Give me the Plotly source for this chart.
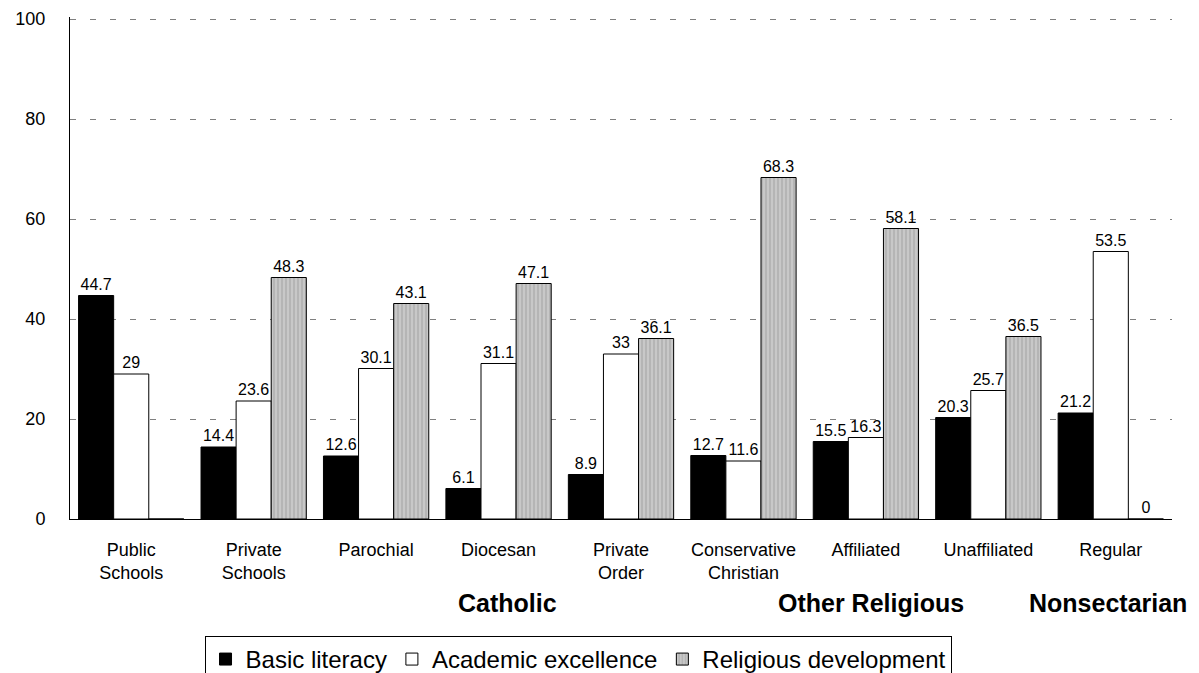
import plotly.graph_objects as go

categories = ["Public<br>Schools", "Private<br>Schools", "Parochial", "Diocesan", "Private<br>Order",
              "Conservative<br>Christian", "Affiliated", "Unaffiliated", "Regular"]
basic = [44.7, 14.4, 12.6, 6.1, 8.9, 12.7, 15.5, 20.3, 21.2]
academic = [29, 23.6, 30.1, 31.1, 33, 11.6, 16.3, 25.7, 53.5]
religious = [None, 48.3, 43.1, 47.1, 36.1, 68.3, 58.1, 36.5, 0]
groups = [("Catholic", 3.07), ("Other Religious", 6.04), ("Nonsectarian", 7.98)]

FONT = "Liberation Sans, Arial, sans-serif"

def fmt(v):
    return "" if v is None else f"{v:g}"

fig = go.Figure()
common = dict(textposition="outside", textfont=dict(size=16, color="black", family=FONT),
              cliponaxis=False)
fig.add_trace(go.Bar(x=categories, y=basic, name="Basic literacy", text=[fmt(v) for v in basic],
                     marker=dict(color="black", line=dict(color="black", width=1)), **common))
fig.add_trace(go.Bar(x=categories, y=academic, name="Academic excellence", text=[fmt(v) for v in academic],
                     marker=dict(color="white", line=dict(color="black", width=1)), **common))
fig.add_trace(go.Bar(x=categories, y=[0 if v is None else v for v in religious], name="Religious development",
                     text=[fmt(v) for v in religious],
                     marker=dict(color="#b5b5b5", line=dict(color="black", width=1),
                                 pattern=dict(shape="|", fgcolor="white", bgcolor="#b5b5b5",
                                              size=4, solidity=0.25)), **common))

for label, xpos in groups:
    fig.add_annotation(x=xpos, y=-0.167, xref="x", yref="paper", text=f"<b>{label}</b>",
                       showarrow=False, font=dict(size=25, family=FONT, color="black"),
                       xanchor="center", yanchor="middle")

fig.update_layout(
    width=1199, height=673,
    margin=dict(l=62, r=35, t=9, b=162, autoexpand=False),
    paper_bgcolor="white", plot_bgcolor="white",
    barmode="group", bargap=0.14, bargroupgap=0,
    font=dict(family=FONT, color="black"),
    showlegend=True,
    legend=dict(orientation="h", x=0.461, xanchor="center", y=-0.233, yanchor="top",
                bordercolor="black", borderwidth=1, font=dict(size=24, family=FONT),
                itemwidth=30, traceorder="normal"),
)
fig.update_yaxes(range=[0, 100.4], tickvals=[0, 20, 40, 60, 80, 100], showgrid=True,
                 gridcolor="#808080", griddash="6px,14px",
                 gridwidth=1, showline=True, linecolor="black", linewidth=1,
                 tickfont=dict(size=18, family=FONT), ticks="", zeroline=False,
                 ticklabelstandoff=20, ticklabeloverflow="allow")
fig.update_xaxes(range=[-0.5, 8.5], showline=True, linecolor="black", linewidth=1, ticks="",
                 tickfont=dict(size=18, family=FONT), ticklabelstandoff=14,
                 ticklabeloverflow="allow")

fig.write_html("out.html")
